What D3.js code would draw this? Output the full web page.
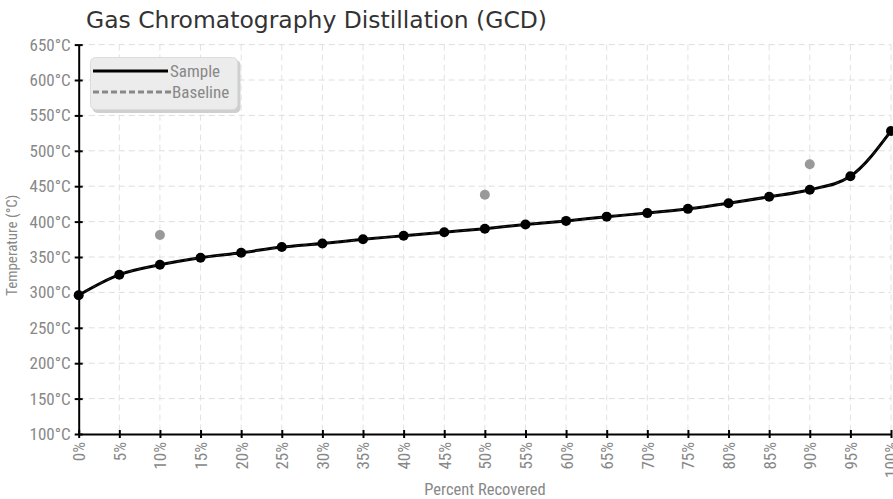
<!DOCTYPE html>
<html><head><meta charset="utf-8">
<script src="https://cdn.jsdelivr.net/npm/d3@7"></script>
<style>
body{margin:0;background:#fff;}
svg{display:block;}
</style></head>
<body>
<svg id="chart" width="893" height="499"></svg>
<script>
const title = "Gas Chromatography Distillation (GCD)";
const percents = [0,5,10,15,20,25,30,35,40,45,50,55,60,65,70,75,80,85,90,95,100];
const sampleTemps = [296,325,339,349,356,364,369,375,380,385,390,396,401,407,412,418,426,435,445,464,528];
const baselinePercents = [10,50,90];
const baselineTemps = [381,438,481];
const yTicks = [100,150,200,250,300,350,400,450,500,550,600,650];
const legendLabels = ["Sample","Baseline"];

const svg = d3.select("#chart");
const m = {left:78.7, right:891, top:44.6, bottom:434};
const x = d3.scaleLinear().domain([0,100]).range([m.left, m.right]);
const y = d3.scaleLinear().domain([100,650]).range([m.bottom, m.top]);
const labelFont = "'Liberation Sans Narrow','Roboto Condensed','Arial Narrow',sans-serif";

// grid
svg.append("g").selectAll("line").data(yTicks.slice(1)).join("line")
  .attr("x1", m.left).attr("x2", m.right).attr("y1", d=>y(d)).attr("y2", d=>y(d))
  .attr("stroke", "#dedede").attr("stroke-dasharray", "6,4");
svg.append("g").selectAll("line").data(percents.slice(1)).join("line")
  .attr("x1", d=>x(d)).attr("x2", d=>x(d)).attr("y1", m.top).attr("y2", m.bottom)
  .attr("stroke", "#e2e2e2").attr("stroke-dasharray", "6,4");

// title
svg.append("text").attr("x", 86).attr("y", 28).text(title)
  .attr("font-family", "'DejaVu Sans', Verdana, sans-serif").attr("font-size", 23.5).attr("fill", "#333")
  .attr("textLength", 461).attr("lengthAdjust", "spacingAndGlyphs");

// axes
const yAxis = d3.axisLeft(y).tickValues(yTicks).tickFormat(d=>d+"°C").tickSizeInner(4).tickSizeOuter(0);
const gy = svg.append("g").attr("transform", `translate(${m.left},0)`).call(yAxis);
gy.select(".domain").attr("stroke", "#000").attr("stroke-width", 2);
gy.selectAll(".tick line").attr("x1", -4).attr("x2", 4).attr("stroke", "#000").attr("stroke-width", 2);
gy.selectAll(".tick text").attr("x", -8).attr("font-family", labelFont).attr("font-size", 17).attr("fill", "#888");

const xAxis = d3.axisBottom(x).tickValues(percents).tickFormat(d=>d+"%").tickSizeInner(4).tickSizeOuter(0);
const gx = svg.append("g").attr("transform", `translate(0,${m.bottom})`).call(xAxis);
gx.select(".domain").attr("stroke", "#000").attr("stroke-width", 2);
gx.selectAll(".tick line").attr("y1", -4).attr("y2", 4).attr("stroke", "#000").attr("stroke-width", 2);
gx.selectAll(".tick text").attr("transform", "rotate(-90)").attr("x", -8).attr("y", 0).attr("dy", "0.35em")
  .attr("text-anchor", "end").attr("font-family", labelFont).attr("font-size", 17).attr("fill", "#888");

// axis titles
svg.append("text").attr("transform", `translate(17,${(m.top+m.bottom)/2+6}) rotate(-90)`).attr("text-anchor","middle")
  .attr("font-family", labelFont).attr("font-size", 15).attr("fill", "#888").text("Temperature (°C)");
svg.append("text").attr("x", 485).attr("y", 495).attr("text-anchor","middle")
  .attr("font-family", labelFont).attr("font-size", 16.5).attr("fill", "#888").text("Percent Recovered");

// sample line
const data = percents.map((p,i)=>({p, t:sampleTemps[i]}));
const line = d3.line().x(d=>x(d.p)).y(d=>y(d.t)).curve(d3.curveMonotoneX);
svg.append("path").datum(data).attr("d", line).attr("fill","none").attr("stroke","#000").attr("stroke-width",3);
svg.append("path").datum(data).attr("d", line).attr("fill","none").attr("stroke","#555").attr("stroke-width",1).attr("stroke-dasharray","4,4").attr("opacity",0.5);
svg.append("g").selectAll("circle").data(data).join("circle")
  .attr("cx", d=>x(d.p)).attr("cy", d=>y(d.t)).attr("r", 5).attr("fill","#000");

// baseline points
svg.append("g").selectAll("circle").data(baselinePercents.map((p,i)=>({p, t:baselineTemps[i]}))).join("circle")
  .attr("cx", d=>x(d.p)).attr("cy", d=>y(d.t)).attr("r", 5).attr("fill","#999");

// legend
const lg = svg.append("g");
lg.append("rect").attr("x", 91.5).attr("y", 58.5).attr("width", 148).attr("height", 53).attr("rx", 5)
  .attr("fill", "#cfcfcf").attr("transform","translate(1,1.5)");
lg.append("rect").attr("x", 90.5).attr("y", 57.5).attr("width", 147).attr("height", 52).attr("rx", 5)
  .attr("fill", "#ececec").attr("stroke", "#dcdcdc");
lg.append("line").attr("x1", 93).attr("x2", 168).attr("y1", 71).attr("y2", 71).attr("stroke", "#000").attr("stroke-width", 3);
lg.append("line").attr("x1", 93).attr("x2", 172).attr("y1", 92).attr("y2", 92).attr("stroke", "#888").attr("stroke-width", 3).attr("stroke-dasharray","6,3");
lg.selectAll("text.l").data(legendLabels).join("text").attr("class","l")
  .attr("x", d=> d==="Sample"?170:172).attr("y", (d,i)=> i===0?77:98)
  .attr("font-family", labelFont).attr("font-size", 17).attr("fill", "#888").text(d=>d);
</script>
</body></html>
